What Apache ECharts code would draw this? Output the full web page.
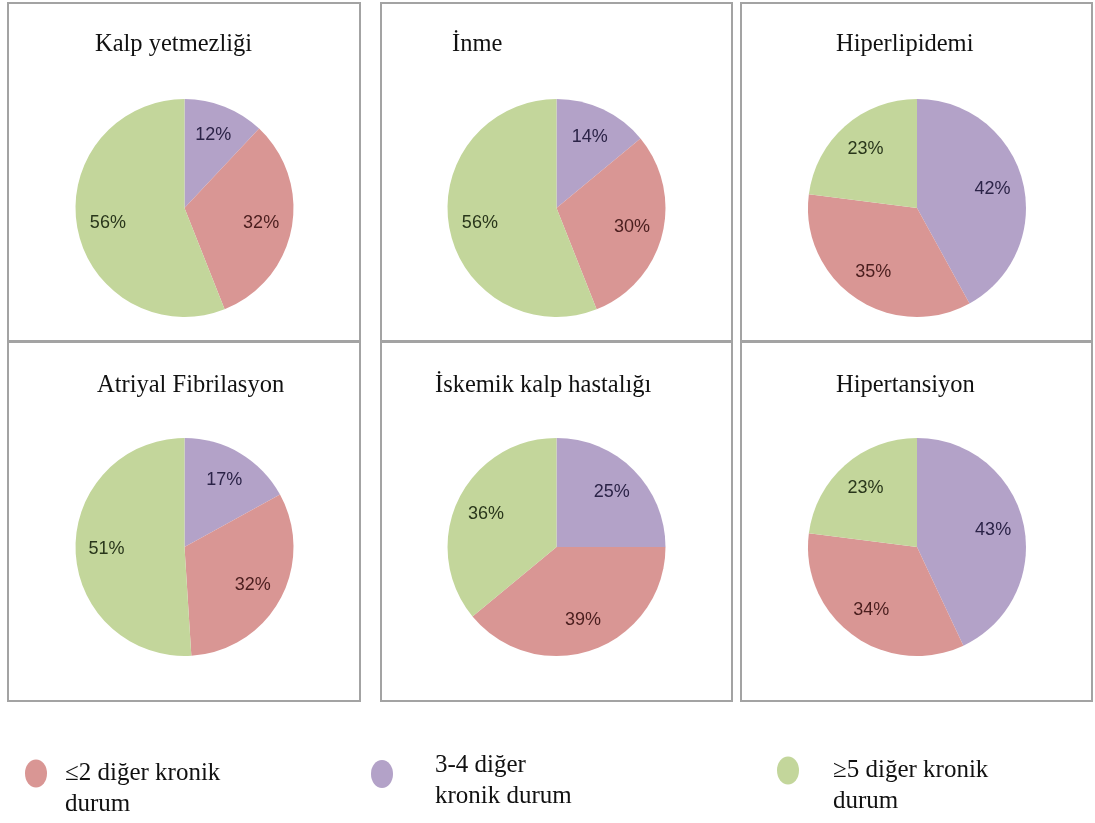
<!DOCTYPE html>
<html>
<head>
<meta charset="utf-8">
<script src="https://cdn.jsdelivr.net/npm/echarts@6/dist/echarts.min.js"></script>
<style>
  html, body { margin: 0; padding: 0; background: #fff; }
  #echarts { width: 1095px; height: 823px; }
</style>
</head>
<body>
<div id="echarts"></div>
<script>
// veri
var categories = ['3-4 diğer kronik durum', '≤2 diğer kronik durum', '≥5 diğer kronik durum'];
var legendText = {
  '≤2 diğer kronik durum': '\n≤2 diğer kronik\ndurum',
  '3-4 diğer kronik durum': '{s| }\n{t|3-4 diğer}\n{t|kronik durum}',
  '≥5 diğer kronik durum': '\n≥5 diğer kronik\ndurum'
};
var titles = ['Kalp yetmezliği', 'İnme', 'Hiperlipidemi', 'Atriyal Fibrilasyon', 'İskemik kalp hastalığı', 'Hipertansiyon'];
var values34 = [12, 14, 42, 17, 25, 43];
var valuesLe2 = [32, 30, 35, 32, 39, 34];
var valuesGe5 = [56, 56, 23, 51, 36, 23];

var colors = ['#b3a2c8', '#d99694', '#c3d69b'];
var labelColors = ['#2b2347', '#4a1e1e', '#29361b'];

var myChart = echarts.init(document.getElementById('echarts'));

// panel yerleşimi
var colX = [184.5, 556.5, 917];
var rowY = [208, 547];
var titleLeft = [95, 452, 836, 97, 435, 836];
var titleTop = [32, 32, 32, 373, 373, 373];
var R = 109;

var series = [], title = [];
titles.forEach(function (t, i) {
  var cx = colX[i % 3], cy = rowY[Math.floor(i / 3)];
  var data = [
    { name: categories[0], value: values34[i] },
    { name: categories[1], value: valuesLe2[i] },
    { name: categories[2], value: valuesGe5[i] }
  ];
  title.push({
    text: t,
    left: titleLeft[i],
    top: titleTop[i],
    padding: 0,
    textStyle: { fontFamily: 'Liberation Serif', fontSize: 24.5, fontWeight: 'normal', color: '#111' }
  });
  series.push({
    type: 'pie',
    center: [cx, cy],
    radius: [0, R],
    startAngle: 90,
    color: colors,
    label: { show: false },
    labelLine: { show: false },
    emphasis: { disabled: true },
    silent: true,
    data: data
  });
  // sadece etiket için saydam halka
  series.push({
    type: 'pie',
    center: [cx, cy],
    radius: [41, R],
    startAngle: 90,
    itemStyle: { color: 'rgba(0,0,0,0)', borderWidth: 0 },
    legendHoverLink: false,
    emphasis: { disabled: true },
    silent: true,
    label: {
      show: true,
      position: 'inside',
      formatter: '{c}%',
      fontFamily: 'Liberation Sans',
      fontSize: 18
    },
    labelLine: { show: false },
    data: data.map(function (d, k) {
      return { name: d.name, value: d.value, label: { color: labelColors[k] } };
    })
  });
});

var legendLeft = [25, 371, 777];
var legendTop = [727, 736, 724];
var legendPad = [13, 37, 29];
var legendName = [categories[1], categories[0], categories[2]];
var legendColor = [colors[1], colors[0], colors[2]];
var legend = legendName.map(function (n, i) {
  return {
    data: [{ name: n, itemStyle: { color: legendColor[i], opacity: 1 } }],
    left: legendLeft[i],
    top: legendTop[i],
    padding: 0,
    selectedMode: false,
    icon: 'path://M0,14 A11,14 0 1,1 22,14 A11,14 0 1,1 0,14 Z',
    itemWidth: 22,
    itemHeight: 28,
    formatter: function (name) { return legendText[name]; },
    textStyle: {
      fontFamily: 'Liberation Serif',
      fontSize: 25,
      lineHeight: 31,
      color: '#111',
      padding: [0, 0, 0, legendPad[i]],
      rich: {
        s: { fontSize: 10, lineHeight: 14 },
        t: { fontFamily: 'Liberation Serif', fontSize: 25, lineHeight: 31, color: '#111' }
      }
    }
  };
});

var boxes = [];
[[8, 3, 352, 338], [381, 3, 351, 338], [741, 3, 351, 338],
 [8, 342, 352, 359], [381, 342, 351, 359], [741, 342, 351, 359]].forEach(function (b) {
  boxes.push({
    type: 'rect',
    shape: { x: b[0], y: b[1], width: b[2], height: b[3] },
    style: { fill: 'none', stroke: '#a3a3a3', lineWidth: 2 },
    silent: true
  });
});

myChart.setOption({
  backgroundColor: '#fff',
  animation: false,
  title: title,
  legend: legend,
  graphic: boxes,
  series: series
});
</script>
</body>
</html>
